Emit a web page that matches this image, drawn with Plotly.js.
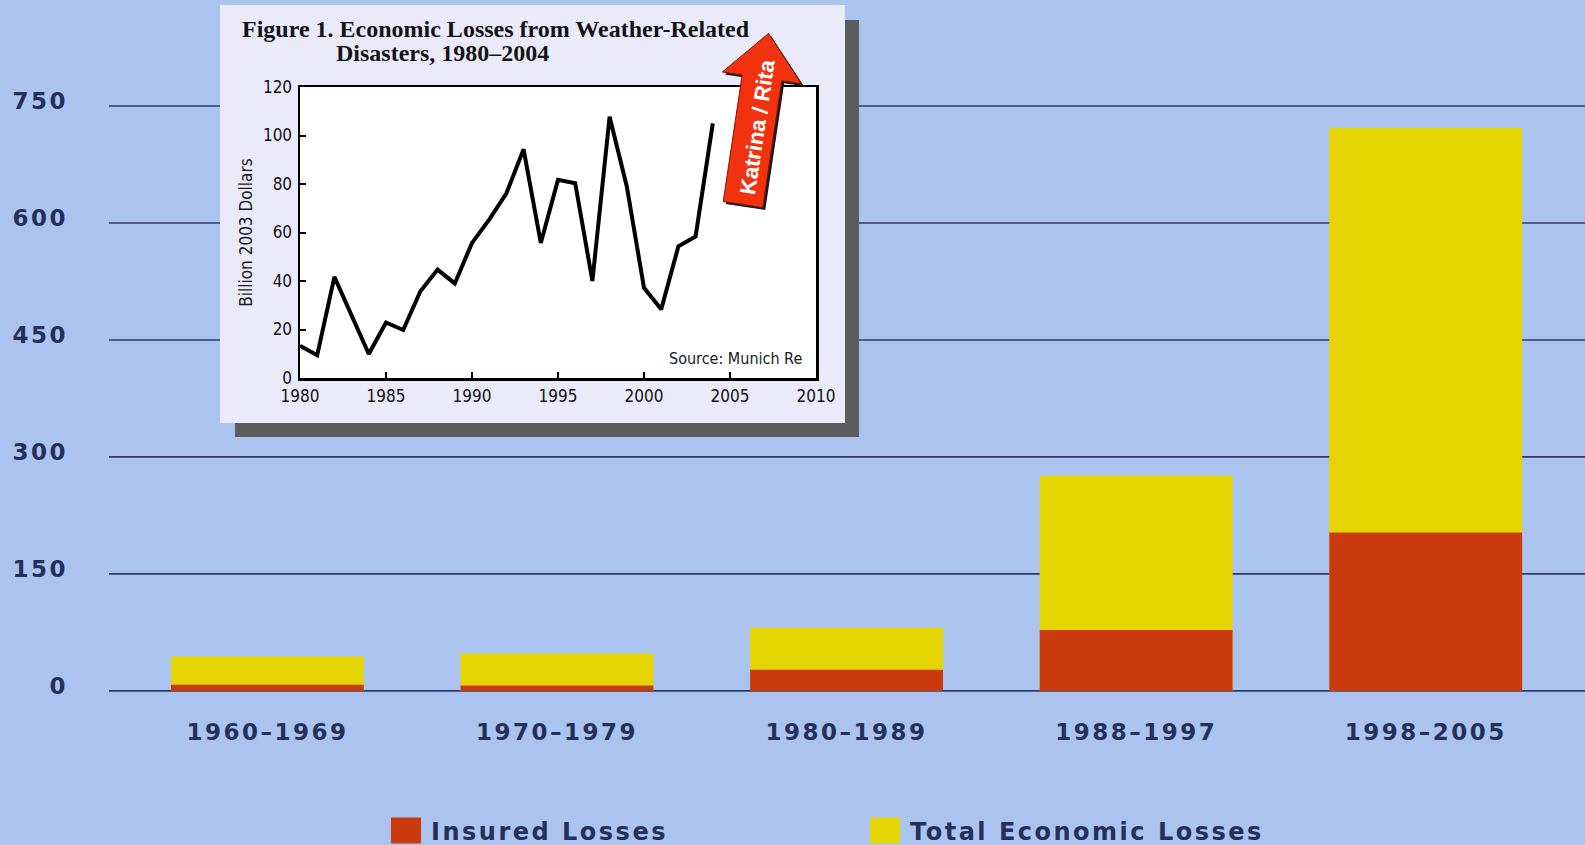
<!DOCTYPE html>
<html>
<head>
<meta charset="utf-8">
<script src="https://cdn.plot.ly/plotly-3.0.1.min.js"></script>
<style>
  html, body { margin: 0; padding: 0; background: #aac4ef; }
  #chart { width: 1585px; height: 845px; }
  .subplot.xy .xtick text, .subplot.xy .ytick text { letter-spacing: 2.5px; }
  .legendtext { letter-spacing: 2.5px; }
</style>
</head>
<body>
<div id="chart"></div>
<script>
// Losses by period (billions of US dollars)
const periods = ['1960–1969', '1970–1979', '1980–1989', '1988–1997', '1998–2005'];
const totalEconomicLosses = [44, 48, 81, 276, 722];
const insuredLosses = [8, 7, 27, 78, 203];
const lossTicks = [0, 150, 300, 450, 600, 750];

// Figure 1: annual economic losses from weather-related disasters (billion 2003 dollars)
const years = [1980, 1981, 1982, 1983, 1984, 1985, 1986, 1987, 1988, 1989,
               1990, 1991, 1992, 1993, 1994, 1995, 1996, 1997, 1998, 1999,
               2000, 2001, 2002, 2003, 2004];
const annualLosses = [13.3, 9.4, 41.7, 25.3, 9.9, 22.9, 19.8, 35.8, 44.7, 39.0,
                      55.7, 65.3, 76.2, 94.3, 55.7, 81.7, 80.3, 40.0, 107.7, 79.0,
                      37.2, 28.3, 54.3, 58.4, 105.0];
const yearTicks = [1980, 1985, 1990, 1995, 2000, 2005, 2010];
const annualTicks = [0, 20, 40, 60, 80, 100, 120];

const W = 1585, H = 845;
const M = { l: 109, r: 0, t: 28, b: 151, autoexpand: false };
const PW = W - M.l - M.r, PH = H - M.t - M.b;
// pixel position -> paper fraction
const px = x => (x - M.l) / PW;
const py = y => (H - M.b - y) / PH;

const NAVY = '#24305a';
const GRID = '#2f3a6c';
const mainFont = { family: 'DejaVu Sans, Verdana, sans-serif', size: 23, color: NAVY, weight: 'bold' };
const legendFont = { family: 'DejaVu Sans, Verdana, sans-serif', size: 24, color: NAVY, weight: 'bold' };
const narrow = 'DejaVu Sans Condensed, Liberation Sans Narrow, Arial Narrow, Liberation Sans, sans-serif';

const traces = [
  {
    type: 'bar', name: 'Total Economic Losses', x: periods, y: totalEconomicLosses,
    marker: { color: '#e4d500', line: { width: 0 } }, legendrank: 2,
    xaxis: 'x', yaxis: 'y', hoverinfo: 'x+y+name'
  },
  {
    type: 'bar', name: 'Insured Losses', x: periods, y: insuredLosses,
    marker: { color: '#cb3a0c', line: { width: 0 } }, legendrank: 1,
    xaxis: 'x', yaxis: 'y', hoverinfo: 'x+y+name'
  },
  {
    type: 'scatter', mode: 'lines', x: years, y: annualLosses, showlegend: false,
    line: { color: '#000000', width: 4 }, xaxis: 'x2', yaxis: 'y2',
    name: 'Economic losses'
  }
];

// horizontal reference lines of the main chart, placed on the value axis
const gridShapes = lossTicks.map(v => ({
  type: 'line', xref: 'paper', yref: 'y', x0: 0, x1: 1, y0: v, y1: v,
  line: { color: GRID, width: 1.6 }, layer: 'below'
}));

function rect(x0, y0, x1, y1, fill, lineSpec, layer) {
  return {
    type: 'rect', xref: 'paper', yref: 'paper',
    x0: px(x0), x1: px(x1), y0: py(y1), y1: py(y0),
    fillcolor: fill, line: lineSpec || { width: 0 }, layer: layer || 'below'
  };
}

// inset panel: drop shadow, lavender card, white plotting area
const INSET = { x0: 300, x1: 816, y0: 87, y1: 378 };
const panelShapes = [
  rect(235, 20, 859, 437, '#5c5c5e'),
  rect(220, 5, 845, 423, '#ebeafb'),
  rect(INSET.x0, INSET.y0, INSET.x1, INSET.y1, '#ffffff')
];

// "Katrina / Rita" arrow built from its base centre, direction and sizes
function arrowPath(cx, cy, angleDeg, bodyLen, bodyHalf, headHalf, headLen, dx, dy) {
  const a = angleDeg * Math.PI / 180;
  const u = [Math.sin(a), -Math.cos(a)];   // along the arrow (up)
  const p = [Math.cos(a), Math.sin(a)];    // across the arrow
  const c1 = [cx + bodyLen * u[0], cy + bodyLen * u[1]];
  const pts = [
    [cx - bodyHalf * p[0], cy - bodyHalf * p[1]],
    [c1[0] - bodyHalf * p[0], c1[1] - bodyHalf * p[1]],
    [c1[0] - headHalf * p[0], c1[1] - headHalf * p[1]],
    [c1[0] + headLen * u[0], c1[1] + headLen * u[1]],
    [c1[0] + headHalf * p[0], c1[1] + headHalf * p[1]],
    [c1[0] + bodyHalf * p[0], c1[1] + bodyHalf * p[1]],
    [cx + bodyHalf * p[0], cy + bodyHalf * p[1]]
  ];
  return pts.map((q, i) => (i ? 'L' : 'M') + px(q[0] + dx).toFixed(5) + ',' + py(q[1] + dy).toFixed(5)).join(' ') + ' Z';
}
const arrowShapes = [
  { type: 'path', xref: 'paper', yref: 'paper', layer: 'above',
    path: arrowPath(743, 204.5, 8.5, 128, 20, 40, 45, 2.5, 2.5),
    fillcolor: '#1a1a1a', line: { width: 0 } },
  { type: 'path', xref: 'paper', yref: 'paper', layer: 'above',
    path: arrowPath(743, 204.5, 8.5, 128, 20, 40, 45, 0, 0),
    fillcolor: '#f2320f', line: { color: '#7a1a08', width: 1 } }
];

const serif = { family: 'Liberation Serif, Times New Roman, serif', size: 24, color: '#141414', weight: 'bold' };
const annotations = [
  { xref: 'paper', yref: 'paper', x: px(240), y: py(29), xanchor: 'left', yanchor: 'middle',
    text: 'Figure 1. Economic Losses from Weather-Related', showarrow: false, font: serif },
  { xref: 'paper', yref: 'paper', x: px(334), y: py(53), xanchor: 'left', yanchor: 'middle',
    text: 'Disasters, 1980–2004', showarrow: false, font: serif },
  { xref: 'paper', yref: 'paper', x: px(804), y: py(358), xanchor: 'right', yanchor: 'middle',
    text: 'Source: Munich Re', showarrow: false,
    font: { family: narrow, size: 16, color: '#1a1a1a' } },
  { xref: 'paper', yref: 'paper', x: px(757), y: py(127), xanchor: 'center', yanchor: 'middle',
    text: 'Katrina / Rita', showarrow: false, textangle: -81.5,
    font: { family: 'Liberation Sans, Arial, sans-serif', size: 22, color: '#ffffff', weight: 'bold' } }
];

const layout = {
  width: W, height: H,
  margin: M,
  paper_bgcolor: '#aac4ef',
  plot_bgcolor: 'rgba(0,0,0,0)',
  barmode: 'overlay',
  bargap: 0.334,
  showlegend: true,
  legend: {
    orientation: 'h', x: px(391), y: py(831), xanchor: 'left', yanchor: 'middle',
    font: legendFont, bgcolor: 'rgba(0,0,0,0)', entrywidth: 434, entrywidthmode: 'pixels',
    traceorder: 'normal'
  },
  xaxis: {
    range: [-0.547, 4.55], showgrid: false, zeroline: false, showline: false,
    ticks: '', tickfont: mainFont, ticklabelstandoff: 22, fixedrange: true
  },
  yaxis: {
    range: [-4, 850], tickvals: lossTicks, ticktext: lossTicks.map(String),
    showgrid: false, zeroline: false, showline: false, ticks: '',
    tickfont: mainFont, ticklabelstandoff: 40, ticklabelshift: -5, fixedrange: true
  },
  xaxis2: {
    domain: [px(INSET.x0), px(INSET.x1)], anchor: 'y2', range: [1980, 2010], tickvals: yearTicks,
    showgrid: false, zeroline: false, showline: true, mirror: true,
    linecolor: '#000000', linewidth: 2.5, ticks: 'inside', ticklen: 6, tickwidth: 2,
    tickcolor: '#000000', ticklabelstandoff: 1,
    tickfont: { family: narrow, size: 17, color: '#111111' }
  },
  yaxis2: {
    domain: [py(INSET.y1), py(INSET.y0)], anchor: 'x2', range: [0, 120], tickvals: annualTicks,
    showgrid: false, zeroline: false, showline: true, mirror: true,
    linecolor: '#000000', linewidth: 2.5, ticks: 'inside', ticklen: 6, tickwidth: 2,
    tickcolor: '#000000', ticklabelstandoff: 2,
    tickfont: { family: narrow, size: 17, color: '#111111' },
    title: { text: 'Billion 2003 Dollars', standoff: 6,
             font: { family: narrow, size: 17, color: '#1a1a1a' } }
  },
  shapes: gridShapes.concat(panelShapes, arrowShapes),
  annotations: annotations
};

Plotly.newPlot('chart', traces, layout, { displayModeBar: false, staticPlot: true }).then(gd => {
  // larger legend swatches, ending 10px before the label
  gd.querySelectorAll('.legend .legendpoints path').forEach(p => p.setAttribute('d', 'M10,13H-20V-13H10Z'));
});
</script>
</body>
</html>
